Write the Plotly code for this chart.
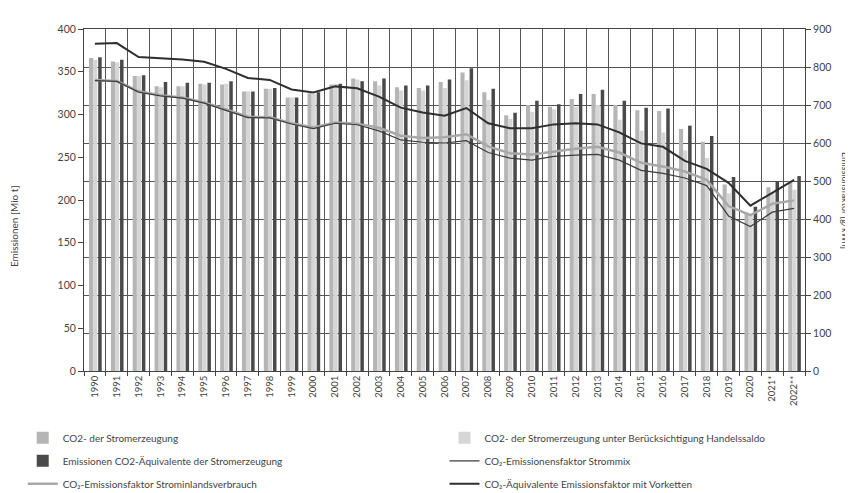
import plotly.graph_objects as go

years = [str(y) for y in range(1990, 2021)] + ["2021*", "2022**"]

co2_strom = [366, 362, 345, 333, 333, 336, 335, 327, 330, 320,
             325, 335, 342, 339, 332, 331, 338, 349, 326, 299,
             311, 309, 318, 324, 311, 305, 304, 283, 268, 218,
             185, 215, 222]
co2_handel = [364, 361, 345, 332, 333, 335, 336, 327, 330, 320,
              324, 336, 341, 334, 328, 328, 331, 340, 317, 295,
              303, 306, 309, 311, 294, 281, 279, 258, 249, 208,
              182, 208, 212]
co2_aeq = [367, 364, 346, 338, 337, 337, 339, 327, 331, 320,
           326, 336, 339, 342, 334, 334, 341, 354, 330, 302,
           316, 312, 324, 329, 316, 308, 307, 287, 275, 227,
           192, 222, 228]

ef_strommix = [764, 762, 734, 724, 718, 705, 686, 667, 666, 650,
               638, 652, 648, 632, 608, 602, 600, 606, 575, 560,
               555, 565, 568, 570, 555, 528, 520, 508, 488, 408,
               380, 418, 428]
ef_inland = [766, 763, 736, 726, 720, 707, 688, 669, 668, 652,
             641, 654, 651, 640, 619, 613, 615, 623, 591, 573,
             570, 577, 585, 590, 575, 548, 538, 525, 503, 434,
             410, 440, 449]
ef_vorketten = [861, 863, 826, 823, 820, 814, 795, 771, 766, 741,
                733, 749, 744, 722, 693, 680, 672, 692, 652, 639,
                639, 649, 652, 649, 628, 599, 590, 553, 532, 495,
                435, 469, 503]

FONT = "Lato, 'Open Sans', sans-serif"
fig = go.Figure()

fig.add_trace(go.Bar(x=years, y=co2_strom, name="CO2- der Stromerzeugung",
                     marker=dict(color="#b5b5b5", line=dict(width=0)),
                     offset=-0.27, width=0.19, legend="legend", legendgroup="a"))
fig.add_trace(go.Bar(x=years, y=co2_handel,
                     name="CO2- der Stromerzeugung unter Berücksichtigung Handelssaldo",
                     marker=dict(color="#d6d6d6", line=dict(width=0)),
                     offset=-0.08, width=0.19, legend="legend2", legendgroup="b"))
fig.add_trace(go.Bar(x=years, y=co2_aeq,
                     name="Emissionen CO2-Äquivalente der Stromerzeugung",
                     marker=dict(color="#4a4a4a", line=dict(width=0)),
                     offset=0.15, width=0.16, legend="legend", legendgroup="c"))
fig.add_trace(go.Scatter(x=years, y=ef_inland, yaxis="y2", mode="lines",
                         name="CO₂-Emissionsfaktor Strominlandsverbrauch",
                         line=dict(color="#a8a8a8", width=2.5),
                         legend="legend", legendgroup="d"))
fig.add_trace(go.Scatter(x=years, y=ef_strommix, yaxis="y2", mode="lines",
                         name="CO₂-Emissionensfaktor Strommix",
                         line=dict(color="#3c3c3c", width=1.2),
                         legend="legend2", legendgroup="e"))
fig.add_trace(go.Scatter(x=years, y=ef_vorketten, yaxis="y2", mode="lines",
                         name="CO₂-Äquivalente Emissionsfaktor mit Vorketten",
                         line=dict(color="#2e2e2e", width=2),
                         legend="legend2", legendgroup="f"))

legend_common = dict(orientation="v", yanchor="top", xanchor="left",
                     traceorder="grouped", tracegroupgap=4,
                     font=dict(size=10, color="#444"), bgcolor="rgba(0,0,0,0)")

fig.update_layout(
    width=853, height=493,
    margin=dict(l=76, r=56, t=21, b=130, autoexpand=False),
    paper_bgcolor="white", plot_bgcolor="white",
    barmode="overlay",
    font=dict(family=FONT, size=10, color="#444"),
    xaxis=dict(type="category", tickson="boundaries", showgrid=True,
               gridcolor="#555", gridwidth=1, tickangle=-90,
               ticks="outside", ticklen=4, tickcolor="#444",
               showline=True, linecolor="#444", linewidth=1, mirror=True,
               tickfont=dict(size=9.5), range=[-0.5, 32.5], automargin=False),
    yaxis=dict(range=[0, 400], dtick=50, showgrid=False,
               ticks="outside", ticklen=5, tickcolor="#444",
               showline=True, linecolor="#444", linewidth=1,
               tickfont=dict(size=10.5), zeroline=False, automargin=False),
    yaxis2=dict(range=[0, 900], dtick=100, overlaying="y", side="right",
                showgrid=True, gridcolor="#555", gridwidth=1,
                ticks="outside", ticklen=5, tickcolor="#444",
                showline=True, linecolor="#444", linewidth=1,
                tickfont=dict(size=10.5), zeroline=False, automargin=False),
    legend=dict(x=-0.085, y=-0.153, **legend_common),
    legend2=dict(x=0.50, y=-0.153, **legend_common),
    annotations=[
        dict(text="Emissionen [Mio t]", xref="paper", yref="paper",
             x=-0.097, y=0.424, xanchor="center", yanchor="middle",
             textangle=-90, showarrow=False,
             font=dict(size=10, color="#444")),
        dict(text="Emissionsfaktor [g/kWh]", xref="paper", yref="paper",
             x=1.057, y=0.5, xanchor="center", yanchor="middle",
             textangle=90, showarrow=False,
             font=dict(size=9, color="#444")),
    ],
)

fig.write_html("out.html")
